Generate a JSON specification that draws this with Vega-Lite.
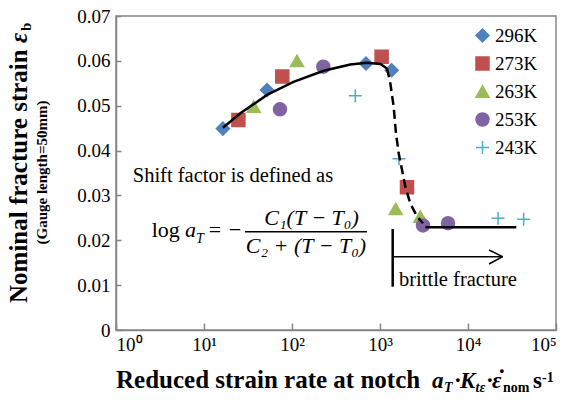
{
  "$schema": "https://vega.github.io/schema/vega-lite/v6.json",
  "width": 440,
  "height": 314,
  "autosize": {"type": "none"},
  "padding": {"left": 116, "top": 16, "right": 17, "bottom": 70},
  "background": "white",
  "config": {
    "view": {"stroke": "#868686", "strokeWidth": 1.5},
    "font": "Liberation Serif",
    "axis": {"grid": false, "domainColor": "#868686", "domainWidth": 1.5, "tickColor": "#868686", "tickWidth": 1.5, "labelFont": "Liberation Serif", "labelFontSize": 19, "labelColor": "black"}
  },
  "datasets": {
    "points": [
      {"x": 16.4, "y": 0.0449, "temp": "296K"},
      {"x": 52, "y": 0.0535, "temp": "296K"},
      {"x": 693, "y": 0.0594, "temp": "296K"},
      {"x": 1356, "y": 0.0579, "temp": "296K"},
      {"x": 24.6, "y": 0.0468, "temp": "273K"},
      {"x": 77.6, "y": 0.0565, "temp": "273K"},
      {"x": 1043, "y": 0.0609, "temp": "273K"},
      {"x": 2027, "y": 0.0318, "temp": "273K"},
      {"x": 36.7, "y": 0.0498, "temp": "263K"},
      {"x": 114, "y": 0.06, "temp": "263K"},
      {"x": 1507, "y": 0.027, "temp": "263K"},
      {"x": 2872, "y": 0.0253, "temp": "263K"},
      {"x": 73, "y": 0.0492, "temp": "253K"},
      {"x": 227, "y": 0.0587, "temp": "253K"},
      {"x": 3082, "y": 0.0233, "temp": "253K"},
      {"x": 5927, "y": 0.0238, "temp": "253K"},
      {"x": 524, "y": 0.0522, "temp": "243K"},
      {"x": 1644, "y": 0.0382, "temp": "243K"},
      {"x": 21950, "y": 0.0249, "temp": "243K"},
      {"x": 42900, "y": 0.0247, "temp": "243K"}
    ],
    "solid": [
      {"x": 16.4, "y": 0.0451},
      {"x": 25.9, "y": 0.0483},
      {"x": 52, "y": 0.0524},
      {"x": 104, "y": 0.0553},
      {"x": 229, "y": 0.0578},
      {"x": 460, "y": 0.0592},
      {"x": 711, "y": 0.0596},
      {"x": 1009, "y": 0.0593},
      {"x": 1202, "y": 0.0583}
    ],
    "dashed": [
      {"x": 1202, "y": 0.0583},
      {"x": 1310, "y": 0.055},
      {"x": 1429, "y": 0.0498},
      {"x": 1520, "y": 0.0438},
      {"x": 1630, "y": 0.0394},
      {"x": 1778, "y": 0.0357},
      {"x": 1941, "y": 0.0319},
      {"x": 2212, "y": 0.0282},
      {"x": 2633, "y": 0.0253},
      {"x": 3082, "y": 0.0238}
    ],
    "flat": [
      {"x": 3273, "y": 0.0229},
      {"x": 35400, "y": 0.0229}
    ],
    "thickRules": [
      {"x": 1394, "y": 0.00965, "x2": 1394, "y2": 0.02252}
    ],
    "thinRules": [
      {"x": 1394, "y": 0.01634, "x2": 24800, "y2": 0.01634},
      {"x": 17330, "y": 0.01783, "x2": 24800, "y2": 0.01634},
      {"x": 17330, "y": 0.01471, "x2": 24800, "y2": 0.01634},
      {"x": 29.2, "y": 0.02191, "x2": 711, "y2": 0.02191}
    ],
    "notes": [
      {"x": 1.549, "y": 0.03306, "t": "Shift factor is defined as"},
      {"x": 1644, "y": 0.00988, "t": "brittle fracture"}
    ],
    "formulaUpLeft": [
      {"x": 2.545, "y": 0.0208, "t": "log"}
    ],
    "formulaUpCenter": [
      {"x": 13.3, "y": 0.0208, "t": "="},
      {"x": 22.5, "y": 0.0208, "t": "−"}
    ],
    "formulaItLeft": [
      {"x": 6.08, "y": 0.0208, "t": "a"}
    ],
    "formulaItCenter": [
      {"x": 166.6, "y": 0.02341, "t": "C₁(T − T₀)"},
      {"x": 144, "y": 0.01717, "t": "C₂ + (T − T₀)"}
    ],
    "formulaSub": [
      {"x": 8.11, "y": 0.0194, "t": "T"}
    ],
    "xtMain": [
      {"x": 1.0, "y": -0.013, "t": "Reduced strain rate at notch"}
    ],
    "xtBold": [
      {"x": 6934, "y": -0.013, "t": "·"},
      {"x": 16020, "y": -0.013, "t": "·"},
      {"x": 21920, "y": -0.0109, "t": "·"},
      {"x": 54800, "y": -0.013, "t": "s"}
    ],
    "xtBoldIt": [
      {"x": 3899, "y": -0.013, "t": "a"},
      {"x": 8110, "y": -0.013, "t": "K"},
      {"x": 18730, "y": -0.013, "t": "ε"}
    ],
    "xtSubIt": [
      {"x": 5337, "y": -0.01375, "t": "T"},
      {"x": 12170, "y": -0.01375, "t": "tε"}
    ],
    "xtSub": [
      {"x": 24990, "y": -0.01375, "t": "nom"},
      {"x": 69300, "y": -0.0116, "t": "-1"}
    ],
    "ytMain": [
      {"x": 0.0974, "y": 0.00602, "t": "Nominal fracture strain"}
    ],
    "ytEps": [
      {"x": 0.0974, "y": 0.06398, "t": "ε"}
    ],
    "ytB": [
      {"x": 0.108, "y": 0.06666, "t": "b"}
    ],
    "ytSecond": [
      {"x": 0.1644, "y": 0.0351, "t": "(Gauge length=50mm)"}
    ]
  },
  "encoding": {
    "x": {
      "field": "x", "type": "quantitative",
      "scale": {"type": "log", "domain": [1, 100000]},
      "axis": {
        "values": [1, 10, 100, 1000, 10000, 100000],
        "title": null,
        "tickSize": -7,
        "labelPadding": 12,
        "labelExpr": "datum.value == 1 ? '10⁰' : datum.value == 10 ? '10¹' : datum.value == 100 ? '10²' : datum.value == 1000 ? '10³' : datum.value == 10000 ? '10⁴' : '10⁵'"
      }
    },
    "y": {
      "field": "y", "type": "quantitative",
      "scale": {"domain": [0, 0.07], "nice": false},
      "axis": {
        "values": [0, 0.01, 0.02, 0.03, 0.04, 0.05, 0.06, 0.07],
        "title": null,
        "tickSize": -5,
        "labelPadding": 11,
        "labelExpr": "datum.value == 0 ? '0' : format(datum.value, '.2f')"
      }
    }
  },
  "layer": [
    {
      "data": {"name": "points"},
      "mark": {"type": "point", "filled": true, "opacity": 1, "size": 169, "strokeWidth": 1.5},
      "encoding": {
        "shape": {"field": "temp", "type": "nominal",
          "scale": {"domain": ["296K", "273K", "263K", "253K", "243K"], "range": ["diamond", "square", "triangle-up", "circle", "M-1,0H1M0,-1V1"]},
          "legend": {"orient": "none", "legendX": 357, "legendY": 10, "title": null, "labelFont": "Liberation Serif", "labelFontSize": 19, "labelColor": "black", "symbolSize": 169, "symbolStrokeWidth": 1.5, "rowPadding": 8, "labelOffset": 3, "padding": 0}},
        "fill": {"field": "temp", "type": "nominal",
          "scale": {"domain": ["296K", "273K", "263K", "253K", "243K"], "range": ["#4F81BD", "#C0504D", "#9BBB59", "#8064A2", "#4BACC6"]},
          "legend": {"orient": "none", "legendX": 357, "legendY": 10, "title": null, "labelFont": "Liberation Serif", "labelFontSize": 19, "labelColor": "black", "symbolSize": 169, "symbolStrokeWidth": 1.5, "rowPadding": 8, "labelOffset": 3, "padding": 0}},
        "stroke": {"field": "temp", "type": "nominal",
          "scale": {"domain": ["296K", "273K", "263K", "253K", "243K"], "range": ["#4F81BD", "#C0504D", "#9BBB59", "#8064A2", "#4BACC6"]},
          "legend": {"orient": "none", "legendX": 357, "legendY": 10, "title": null, "labelFont": "Liberation Serif", "labelFontSize": 19, "labelColor": "black", "symbolSize": 169, "symbolStrokeWidth": 1.5, "rowPadding": 8, "labelOffset": 3, "padding": 0}}
      }
    },
    {
      "data": {"name": "solid"},
      "mark": {"type": "line", "color": "black", "strokeWidth": 2.5},
      "encoding": {}
    },
    {
      "data": {"name": "dashed"},
      "mark": {"type": "line", "color": "black", "strokeWidth": 2.5, "strokeDash": [9, 5]},
      "encoding": {}
    },
    {
      "data": {"name": "flat"},
      "mark": {"type": "line", "color": "black", "strokeWidth": 2.5},
      "encoding": {}
    },
    {
      "data": {"name": "thickRules"},
      "mark": {"type": "rule", "color": "black", "strokeWidth": 2.5},
      "encoding": {"x2": {"field": "x2"}, "y2": {"field": "y2"}}
    },
    {
      "data": {"name": "thinRules"},
      "mark": {"type": "rule", "color": "black", "strokeWidth": 1.5},
      "encoding": {"x2": {"field": "x2"}, "y2": {"field": "y2"}}
    },
    {
      "data": {"name": "notes"},
      "mark": {"type": "text", "font": "Liberation Serif", "fontSize": 20.5, "align": "left", "baseline": "alphabetic", "color": "black"},
      "encoding": {"text": {"field": "t"}}
    },
    {
      "data": {"name": "formulaUpLeft"},
      "mark": {"type": "text", "font": "Liberation Serif", "fontSize": 22, "align": "left", "baseline": "alphabetic", "color": "black"},
      "encoding": {"text": {"field": "t"}}
    },
    {
      "data": {"name": "formulaUpCenter"},
      "mark": {"type": "text", "font": "Liberation Serif", "fontSize": 22, "align": "center", "baseline": "alphabetic", "color": "black"},
      "encoding": {"text": {"field": "t"}}
    },
    {
      "data": {"name": "formulaItLeft"},
      "mark": {"type": "text", "font": "Liberation Serif", "fontSize": 22, "fontStyle": "italic", "align": "left", "baseline": "alphabetic", "color": "black"},
      "encoding": {"text": {"field": "t"}}
    },
    {
      "data": {"name": "formulaItCenter"},
      "mark": {"type": "text", "font": "Liberation Serif", "fontSize": 22, "fontStyle": "italic", "align": "center", "baseline": "alphabetic", "color": "black"},
      "encoding": {"text": {"field": "t"}}
    },
    {
      "data": {"name": "formulaSub"},
      "mark": {"type": "text", "font": "Liberation Serif", "fontSize": 14, "fontStyle": "italic", "align": "left", "baseline": "alphabetic", "color": "black"},
      "encoding": {"text": {"field": "t"}}
    },
    {
      "data": {"name": "xtMain"},
      "mark": {"type": "text", "font": "Liberation Serif", "fontSize": 25, "fontWeight": "bold", "align": "left", "baseline": "alphabetic", "color": "black"},
      "encoding": {"text": {"field": "t"}}
    },
    {
      "data": {"name": "xtBold"},
      "mark": {"type": "text", "font": "Liberation Serif", "fontSize": 23, "fontWeight": "bold", "align": "left", "baseline": "alphabetic", "color": "black"},
      "encoding": {"text": {"field": "t"}}
    },
    {
      "data": {"name": "xtBoldIt"},
      "mark": {"type": "text", "font": "Liberation Serif", "fontSize": 23, "fontWeight": "bold", "fontStyle": "italic", "align": "left", "baseline": "alphabetic", "color": "black"},
      "encoding": {"text": {"field": "t"}}
    },
    {
      "data": {"name": "xtSubIt"},
      "mark": {"type": "text", "font": "Liberation Serif", "fontSize": 14, "fontWeight": "bold", "fontStyle": "italic", "align": "left", "baseline": "alphabetic", "color": "black"},
      "encoding": {"text": {"field": "t"}}
    },
    {
      "data": {"name": "xtSub"},
      "mark": {"type": "text", "font": "Liberation Serif", "fontSize": 14, "fontWeight": "bold", "align": "left", "baseline": "alphabetic", "color": "black"},
      "encoding": {"text": {"field": "t"}}
    },
    {
      "data": {"name": "ytMain"},
      "mark": {"type": "text", "font": "Liberation Serif", "fontSize": 25, "fontWeight": "bold", "angle": 270, "align": "left", "baseline": "alphabetic", "color": "black"},
      "encoding": {"text": {"field": "t"}}
    },
    {
      "data": {"name": "ytEps"},
      "mark": {"type": "text", "font": "Liberation Serif", "fontSize": 25, "fontWeight": "bold", "fontStyle": "italic", "angle": 270, "align": "left", "baseline": "alphabetic", "color": "black"},
      "encoding": {"text": {"field": "t"}}
    },
    {
      "data": {"name": "ytB"},
      "mark": {"type": "text", "font": "Liberation Serif", "fontSize": 15, "fontWeight": "bold", "angle": 270, "align": "left", "baseline": "alphabetic", "color": "black"},
      "encoding": {"text": {"field": "t"}}
    },
    {
      "data": {"name": "ytSecond"},
      "mark": {"type": "text", "font": "Liberation Serif", "fontSize": 15, "fontWeight": "bold", "angle": 270, "align": "center", "baseline": "alphabetic", "color": "black"},
      "encoding": {"text": {"field": "t"}}
    }
  ]
}
